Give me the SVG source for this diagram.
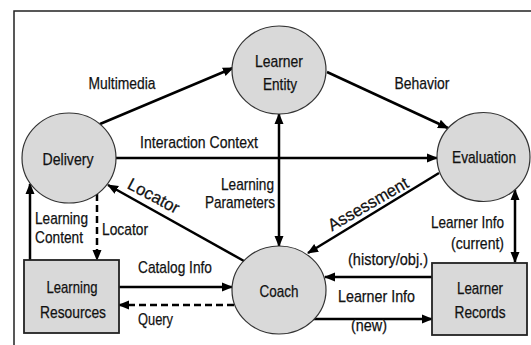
<svg xmlns="http://www.w3.org/2000/svg" width="531" height="345" viewBox="0 0 531 345">
<style>
text{font-family:"Liberation Sans",Arial,sans-serif;font-size:17px;fill:#111;stroke:#111;stroke-width:0.25}
.c{text-anchor:middle}
.r{text-anchor:end}
.node{fill:#d9d9d9;stroke:#333;stroke-width:1.2}
.box{fill:#d9d9d9;stroke:#222;stroke-width:1.8}
.ln{stroke:#000;stroke-width:2.5;fill:none}
.d{stroke-dasharray:7 4}
</style>
<defs>
<marker id="ah" markerUnits="userSpaceOnUse" markerWidth="12" markerHeight="11" refX="10" refY="4.5" orient="auto-start-reverse" viewBox="0 0 12 9">
<path d="M0,0 L11,4.5 L0,9 z" fill="#000"/>
</marker>
</defs>
<rect width="531" height="345" fill="#fff"/>
<g id="frame" stroke="#222" stroke-width="1.5" fill="none">
<path d="M14,345 V11 H531"/>
</g>
<g id="connectors">
<path class="ln" d="M100,124 L233,68" marker-end="url(#ah)"/>
<path class="ln" d="M327,72 L448,128" marker-end="url(#ah)"/>
<path class="ln" d="M116,158 L437,158" marker-end="url(#ah)"/>
<path class="ln" d="M279,114 L279,246" marker-start="url(#ah)" marker-end="url(#ah)"/>
<path class="ln" d="M244,261 L108,185" marker-end="url(#ah)"/>
<path class="ln" d="M439,173 L308,253" marker-end="url(#ah)"/>
<path class="ln" d="M515,190 L515,262" marker-start="url(#ah)" marker-end="url(#ah)"/>
<path class="ln" d="M30,260 L30,184" marker-end="url(#ah)"/>
<path class="ln d" d="M97,194 L97,260" marker-end="url(#ah)"/>
<path class="ln" d="M119,287 L232,287" marker-end="url(#ah)"/>
<path class="ln d" d="M234,305 L119,305" marker-end="url(#ah)"/>
<path class="ln" d="M432,277 L325,277" marker-end="url(#ah)"/>
<path class="ln" d="M313,319 L432,319" marker-end="url(#ah)"/>
<text class="c" x="122" y="89" textLength="67" lengthAdjust="spacingAndGlyphs">Multimedia</text>
<text class="c" x="422" y="89" textLength="55" lengthAdjust="spacingAndGlyphs">Behavior</text>
<text class="c" x="199" y="148" textLength="118" lengthAdjust="spacingAndGlyphs">Interaction Context</text>
<text class="c" transform="translate(151,201) rotate(28)" textLength="56" lengthAdjust="spacingAndGlyphs">Locator</text>
<text class="c" transform="translate(371,209) rotate(-30)" textLength="90" lengthAdjust="spacingAndGlyphs">Assessment</text>
<text class="r" x="274" y="190" textLength="53" lengthAdjust="spacingAndGlyphs">Learning</text>
<text class="r" x="275" y="208" textLength="70" lengthAdjust="spacingAndGlyphs">Parameters</text>
<text x="35" y="224" textLength="53" lengthAdjust="spacingAndGlyphs">Learning</text>
<text x="35" y="243" textLength="48" lengthAdjust="spacingAndGlyphs">Content</text>
<text x="102" y="235" textLength="46" lengthAdjust="spacingAndGlyphs">Locator</text>
<text x="138" y="273" textLength="74" lengthAdjust="spacingAndGlyphs">Catalog Info</text>
<text x="138" y="325" textLength="35" lengthAdjust="spacingAndGlyphs">Query</text>
<text x="348" y="265" textLength="80" lengthAdjust="spacingAndGlyphs">(history/obj.)</text>
<text x="338" y="302" textLength="77" lengthAdjust="spacingAndGlyphs">Learner Info</text>
<text x="351" y="331" textLength="36" lengthAdjust="spacingAndGlyphs">(new)</text>
<text class="r" x="504" y="228" textLength="73" lengthAdjust="spacingAndGlyphs">Learner Info</text>
<text class="r" x="504" y="249" textLength="53" lengthAdjust="spacingAndGlyphs">(current)</text>
</g>
<g id="learner-entity">
<ellipse class="node" cx="279" cy="70" rx="47" ry="44"/>
<text class="c" x="279" y="67" textLength="48" lengthAdjust="spacingAndGlyphs">Learner</text>
<text class="c" x="280" y="90" textLength="34" lengthAdjust="spacingAndGlyphs">Entity</text>
</g>
<g id="delivery">
<ellipse class="node" cx="69" cy="158" rx="47" ry="45"/>
<text class="c" x="68" y="165" textLength="51" lengthAdjust="spacingAndGlyphs">Delivery</text>
</g>
<g id="evaluation">
<ellipse class="node" cx="483.5" cy="157" rx="46.5" ry="44.5"/>
<text class="c" x="484" y="163" textLength="64" lengthAdjust="spacingAndGlyphs">Evaluation</text>
</g>
<g id="coach">
<ellipse class="node" cx="279" cy="290" rx="47" ry="44"/>
<text class="c" x="279" y="297" textLength="39" lengthAdjust="spacingAndGlyphs">Coach</text>
</g>
<g id="learning-resources">
<rect class="box" x="24" y="260" width="95" height="73"/>
<text class="c" x="72" y="293" textLength="51" lengthAdjust="spacingAndGlyphs">Learning</text>
<text class="c" x="73" y="318" textLength="66" lengthAdjust="spacingAndGlyphs">Resources</text>
</g>
<g id="learner-records">
<rect class="box" x="432" y="263" width="95" height="72"/>
<text class="c" x="480" y="294" textLength="46" lengthAdjust="spacingAndGlyphs">Learner</text>
<text class="c" x="480" y="318" textLength="51" lengthAdjust="spacingAndGlyphs">Records</text>
</g>
</svg>
